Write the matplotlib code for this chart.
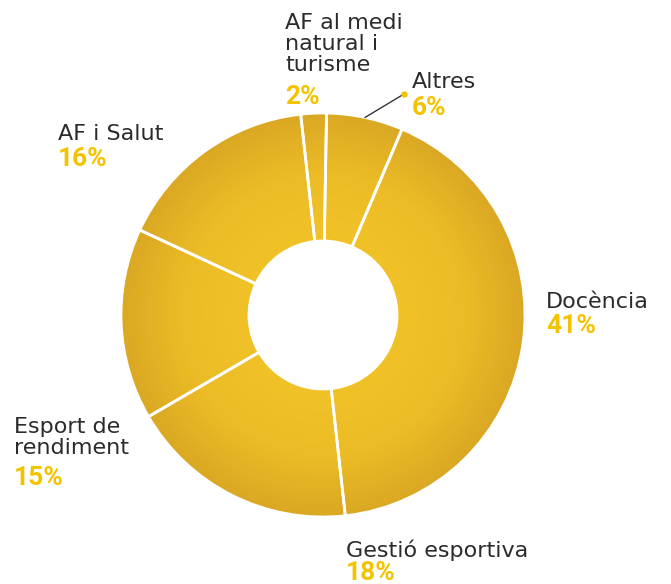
import numpy as np
import matplotlib.pyplot as plt
from matplotlib.colors import LinearSegmentedColormap
from matplotlib.patches import Wedge

# share of graduates by professional field (clockwise from the top)
categories = ["Altres", "Docència", "Gestió esportiva", "Esport de rendiment",
              "AF i Salut", "AF al medi natural i turisme"]
shares = [6, 41, 18, 15, 16, 2]
label_lines = [["Altres"], ["Docència"], ["Gestió esportiva"],
               ["Esport de", "rendiment"], ["AF i Salut"],
               ["AF al medi", "natural i", "turisme"]]

# label anchors in pixels: x, first baseline, percent baseline
label_pos = [(412, 88, 115), (546, 308, 333), (346, 557, 580),
             (14, 433, 485), (58, 140, 166), (285, 29, 104)]

W, H = 671, 584
cx, cy = 323, H - 315
R, r_in = 202, 74

text_col = "#2b2b2b"
pct_col = "#F4C300"

fig = plt.figure(figsize=(W / 100, H / 100), dpi=100)
ax = fig.add_axes([0, 0, 1, 1])

wedges, _ = ax.pie(shares, startangle=89, counterclock=False, center=(cx, cy),
                   radius=R, colors=["none"] * len(shares),
                   wedgeprops=dict(width=R - r_in, edgecolor="white", linewidth=2))
for w in wedges:
    w.set_zorder(3)

# radial shading of the ring
cmap = LinearSegmentedColormap.from_list(
    "ring", [(0.0, "#F3C52A"), (0.37, "#F1C228"), (0.7, "#ECBC26"), (1.0, "#DAA823")])
n = 500
g = np.linspace(-1, 1, n)
gx, gy = np.meshgrid(g, g)
dist = np.clip(np.hypot(gx, gy), 0, 1)
img = ax.imshow(dist, extent=[cx - R, cx + R, cy - R, cy + R], origin="lower",
                cmap=cmap, vmin=0, vmax=1, zorder=1, interpolation="bilinear")
ring = Wedge((cx, cy), R, 0, 360, width=R - r_in, transform=ax.transData)
img.set_clip_path(ring)

for lines, v, (x, y0, yp) in zip(label_lines, shares, label_pos):
    for k, line in enumerate(lines):
        ax.text(x, H - (y0 + 21 * k), line, fontsize=16, family="DejaVu Sans",
                color=text_col, ha="left", va="baseline", zorder=5)
    ax.text(x, H - yp, f"{v}%", fontsize=19, family="Roboto", fontweight="bold",
            color=pct_col, ha="left", va="baseline", zorder=5)

# leader for the thin "Altres" slice
w0 = wedges[0]
mid = np.deg2rad((w0.theta1 + w0.theta2) / 2)
sx, sy = cx + R * np.cos(mid), cy + R * np.sin(mid)
ex, ey = 404, H - 94
ax.plot([sx, ex], [sy, ey], color="#222222", lw=0.9, zorder=4)
ax.plot(ex, ey, "o", ms=3.5, color=pct_col, zorder=5)

ax.set_xlim(0, W)
ax.set_ylim(0, H)
ax.set_aspect("equal")
ax.axis("off")
fig.savefig("out.png", dpi=100)
